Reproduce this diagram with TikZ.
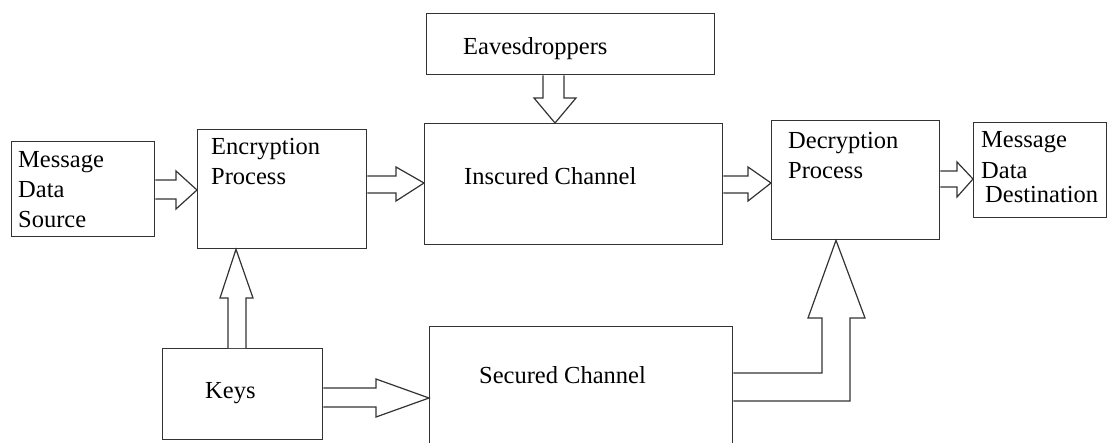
\documentclass[tikz,border=0pt]{standalone}
\usepackage{fontspec}
\setmainfont{Liberation Serif}
\begin{document}
\begin{tikzpicture}[x=1pt,y=-1pt,
  box/.style={draw=black!80, line width=1.3pt, anchor=north west, inner sep=0pt, fill=none},
  lbl/.style={anchor=base west, inner sep=0pt, font=\fontsize{24.5}{29}\selectfont, text=black},
  barrow/.style={draw=black!80, line width=1.2pt, fill=white, line join=miter}]
\useasboundingbox (0,0) rectangle (1107,442);
\clip (0,0) rectangle (1107,442);
% boxes
\node[box, minimum width=143pt, minimum height=95pt] (src) at (11,141) {};
\node[box, minimum width=169pt, minimum height=119pt] (enc) at (197,129) {};
\node[box, minimum width=298pt, minimum height=121pt] (ins) at (424,123) {};
\node[box, minimum width=288pt, minimum height=61pt] (eav) at (426,13) {};
\node[box, minimum width=168pt, minimum height=119pt] (dec) at (771,120) {};
\node[box, minimum width=132.5pt, minimum height=95pt] (dst) at (973,122) {};
\node[box, minimum width=160pt, minimum height=91pt] (keys) at (162,348) {};
\node[box, minimum width=303pt, minimum height=135pt] (sec) at (429,326) {};
% labels
\node[lbl] (t1) at (18,167) {Message};
\node[lbl] (t2) at (18,197) {Data};
\node[lbl] (t3) at (18,227) {Source};
\node[lbl] (t4) at (211,154) {Encryption};
\node[lbl] (t5) at (211,184) {Process};
\node[lbl] (t6) at (463,54) {Eavesdroppers};
\node[lbl] (t7) at (464,184) {Inscured Channel};
\node[lbl] (t8) at (788,148) {Decryption};
\node[lbl] (t9) at (788,178) {Process};
\node[lbl] (t10) at (981,147) {Message};
\node[lbl] (t11) at (981,178) {Data};
\node[lbl] (t12) at (985,202) {Destination};
\node[lbl] (t13) at (205,398) {Keys};
\node[lbl] (t14) at (479,383) {Secured Channel};
% block arrows
\draw[barrow] (src.east |- 0,180) -- (176,180) -- (176,171) -- (enc.west |- 0,190) -- (176,209) -- (176,199) -- (src.east |- 0,199);
\draw[barrow] (enc.east |- 0,176) -- (396,176) -- (396,167) -- (ins.west |- 0,183) -- (396,201) -- (396,193) -- (enc.east |- 0,193);
\draw[barrow] (ins.east |- 0,176) -- (748,176) -- (748,167) -- (dec.west |- 0,183) -- (748,201) -- (748,193) -- (ins.east |- 0,193);
\draw[barrow] (dec.east |- 0,171) -- (957,171) -- (957,162) -- (dst.west |- 0,179) -- (957,197) -- (957,187) -- (dec.east |- 0,187);
\draw[barrow] (543,0 |- eav.south) -- (543,98) -- (534,98) -- (555,0 |- ins.north) -- (576,98) -- (564,98) -- (564,0 |- eav.south);
\draw[barrow] (228,0 |- keys.north) -- (228,298) -- (220,298) -- (236,0 |- enc.south) -- (253,298) -- (246,298) -- (246,0 |- keys.north);
\draw[barrow] (keys.east |- 0,388) -- (376,388) -- (376,379) -- (sec.west |- 0,398) -- (376,417) -- (376,407) -- (keys.east |- 0,407);
\draw[barrow] (sec.east |- 0,373) -- (822,373) -- (822,318) -- (808,318) -- (836,0 |- dec.south) -- (865,318) -- (850,318) -- (850,401) -- (sec.east |- 0,401);
\end{tikzpicture}
\end{document}
